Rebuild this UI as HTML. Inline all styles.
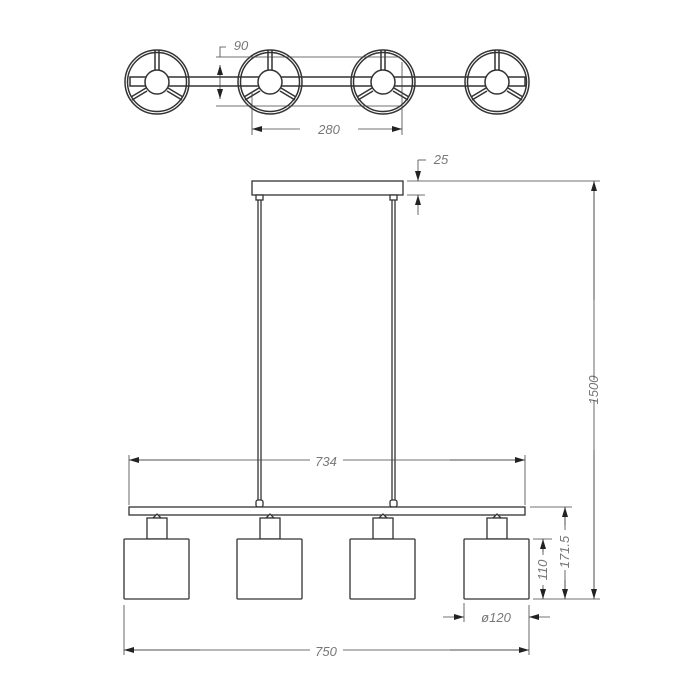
<!DOCTYPE html>
<html><head><style>body{margin:0;background:#fff}svg{display:block}</style></head><body>
<svg width="700" height="700" viewBox="0 0 700 700" xmlns="http://www.w3.org/2000/svg">
<defs>
<marker id="a" viewBox="0 0 10 6" refX="10" refY="3" markerWidth="10" markerHeight="6" orient="auto-start-reverse" markerUnits="userSpaceOnUse"><path d="M0,0 L10,3 L0,6z" fill="#222"/></marker>
</defs>
<g fill="none" stroke="#333" stroke-width="1.5">
<rect x="130" y="77" width="395" height="9"/>
<g id="c">
<circle cx="157" cy="82" r="32"/><circle cx="157" cy="82" r="29.5"/>
<circle cx="157" cy="82" r="12" fill="#fff"/>
<path d="M155,50 V70 M159,50 V70 M146,88 L131,97 M147,91 L132,100 M168,88 L183,97 M167,91 L182,100"/>
</g>
<use href="#c" x="113"/><use href="#c" x="226"/><use href="#c" x="340"/>
</g>
<g fill="none" stroke="#444" stroke-width="0.8">
<path d="M216,57 H400 M216,106 H400 M252,92 V135 M402,62 V135"/>
<path d="M220,65 V99" marker-start="url(#a)" marker-end="url(#a)"/>
<path d="M220,57 V47 H226"/>
<path d="M252,129 H300" marker-start="url(#a)"/><path d="M358,129 H402" marker-end="url(#a)"/>
</g>
<g font-family="Liberation Sans, sans-serif" font-style="italic" font-size="13" fill="#777" text-anchor="middle">
<text x="241" y="50">90</text><text x="329" y="134">280</text>
<text x="441" y="164">25</text>
<text x="326" y="466">734</text>
<text x="326" y="656">750</text>
<text x="496" y="622">ø120</text>
<text transform="translate(598,390) rotate(-90)">1500</text>
<text transform="translate(569,552) rotate(-90)">171.5</text>
<text transform="translate(547,570) rotate(-90)">110</text>
</g>
<g fill="#fff" stroke="#333" stroke-width="1.3">
<rect x="252" y="181" width="151" height="14"/>
<rect x="256" y="195" width="7" height="5"/><rect x="390" y="195" width="7" height="5"/>
<path d="M258,200 V500 M261,200 V500 M392,200 V500 M395,200 V500" fill="none"/>
<rect x="256" y="500" width="7" height="7" rx="2"/><rect x="390" y="500" width="7" height="7" rx="2"/>
<rect x="129" y="507" width="396" height="8"/>
<g id="s">
<path d="M153,518 L157,514 L161,518z"/>
<rect x="147" y="518" width="20" height="21"/>
<rect x="124" y="539" width="65" height="60" rx="1"/>
</g>
<use href="#s" x="113"/><use href="#s" x="226"/><use href="#s" x="340"/>
</g>
<g fill="none" stroke="#444" stroke-width="0.8">
<path d="M407,181 H600 M407,195 H425"/>
<path d="M418,160 V181" marker-end="url(#a)"/><path d="M418,215 V195" marker-end="url(#a)"/>
<path d="M418,160 H426"/>
<path d="M594,181 V380 M594,400 V599"/>
<path d="M594,181 V300" marker-start="url(#a)"/><path d="M594,450 V599" marker-end="url(#a)"/>
<path d="M129,455 V505 M525,455 V505"/>
<path d="M129,460 H310 M343,460 H525"/>
<path d="M129,460 H200" marker-start="url(#a)"/><path d="M450,460 H525" marker-end="url(#a)"/>
<path d="M530,507 H572 M533,539 H552 M533,599 H600"/>
<path d="M565,507 V530 M565,570 V599"/>
<path d="M565,507 V525" marker-start="url(#a)"/><path d="M565,580 V599" marker-end="url(#a)"/>
<path d="M543,539 V555 M543,585 V599"/>
<path d="M543,539 V552" marker-start="url(#a)"/><path d="M543,588 V599" marker-end="url(#a)"/>
<path d="M124,605 V655 M529,605 V655 M464,603 V622"/>
<path d="M443,617 H464" marker-end="url(#a)"/><path d="M550,617 H529" marker-end="url(#a)"/>
<path d="M124,650 H310 M343,650 H529"/>
<path d="M124,650 H200" marker-start="url(#a)"/><path d="M450,650 H529" marker-end="url(#a)"/>
</g>
</svg>
</body></html>
